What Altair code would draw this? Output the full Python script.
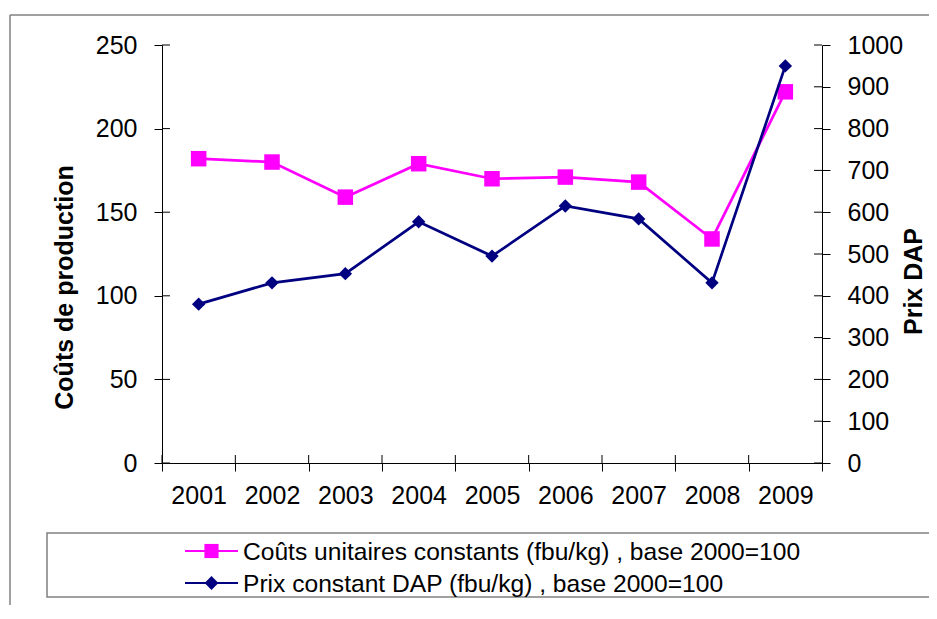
import altair as alt
import pandas as pd

years = ["2001", "2002", "2003", "2004", "2005", "2006", "2007", "2008", "2009"]
couts = [182, 180, 159, 179, 170, 171, 168, 134, 222]
prix = [380, 431, 453, 577, 495, 615, 584, 431, 950]
series_names = [
    "Coûts unitaires constants (fbu/kg) , base 2000=100",
    "Prix constant DAP (fbu/kg) , base 2000=100",
]
left_ticks = [0, 50, 100, 150, 200, 250]
right_ticks = [0, 100, 200, 300, 400, 500, 600, 700, 800, 900, 1000]
left_title = "Coûts de production"
right_title = "Prix DAP"
colors = ["#FF00FF", "#000080"]

W, H = 660, 418
FONT = "Liberation Sans"
AX = "#000000"
BORDER = "#808080"

df = pd.DataFrame({"year": years, "couts": couts, "prix": prix})
xscale = alt.Scale(type="band", paddingInner=0, paddingOuter=0, domain=years)
lscale = alt.Scale(domain=[0, 250], nice=False, zero=True)
rscale = alt.Scale(domain=[0, 1000], nice=False, zero=True)

x_axis = alt.Axis(
    title=None, tickBand="extent", labelAngle=0, labelFontSize=25,
    labelFont=FONT, labelColor=AX, labelPadding=12, tickSize=8,
    tickColor=AX, domainColor=AX, grid=False, labelBaseline="top",
)
x_enc = alt.X("year:N", scale=xscale, axis=x_axis)

left_axis = alt.Axis(
    orient="left", values=left_ticks, format="d", title=left_title, titleFont=FONT,
    titleFontSize=25, titleFontWeight="bold", titleColor=AX, titleAngle=270,
    titleX=-98, titleY=242, titleAlign="center", titleBaseline="middle",
    labelFont=FONT, labelFontSize=25, labelColor=AX, labelPadding=17,
    tickSize=8, tickColor=AX, domainColor=AX, grid=False,
)
right_axis = alt.Axis(
    orient="right", values=right_ticks, format="d", title=right_title, titleFont=FONT,
    titleFontSize=25, titleFontWeight="bold", titleColor=AX, titleAngle=270,
    titleX=91, titleY=236, titleAlign="center", titleBaseline="middle",
    labelFont=FONT, labelFontSize=25, labelColor=AX, labelPadding=17,
    tickSize=8, tickColor=AX, domainColor=AX, grid=False,
)

base = alt.Chart(df)
c_line = base.mark_line(color=colors[0], strokeWidth=2.7).encode(
    x=x_enc, y=alt.Y("couts:Q", scale=lscale, axis=left_axis)
)
c_pts = base.mark_point(shape="square", size=240, filled=True, opacity=1,
                        color=colors[0]).encode(
    x=x_enc, y=alt.Y("couts:Q", scale=lscale, axis=left_axis)
)
lt_df = pd.DataFrame({"v": left_ticks})
c_ticks = alt.Chart(lt_df).mark_rule(color=AX, strokeWidth=1).encode(
    y=alt.Y("v:Q", scale=lscale, axis=left_axis), x=alt.value(0), x2=alt.value(8)
)
left_group = alt.layer(c_line, c_pts, c_ticks)

p_line = base.mark_line(color=colors[1], strokeWidth=2.7).encode(
    x=x_enc, y=alt.Y("prix:Q", scale=rscale, axis=right_axis)
)
p_pts = base.mark_point(shape="diamond", size=180, filled=True, opacity=1,
                        color=colors[1]).encode(
    x=x_enc, y=alt.Y("prix:Q", scale=rscale, axis=right_axis)
)
rt_df = pd.DataFrame({"v": right_ticks})
p_ticks = alt.Chart(rt_df).mark_rule(color=AX, strokeWidth=1).encode(
    y=alt.Y("v:Q", scale=rscale, axis=right_axis), x=alt.value(W - 8), x2=alt.value(W)
)
right_group = alt.layer(p_line, p_pts, p_ticks)

x_ticks = alt.Chart(pd.DataFrame({"year": years})).mark_rule(
    color=AX, strokeWidth=1
).encode(
    x=alt.X("year:N", scale=xscale, bandPosition=0, axis=x_axis),
    y=alt.value(H - 8), y2=alt.value(H),
)

one = pd.DataFrame({"a": [0]})
leg_box = alt.Chart(one).mark_rect(fill=None, stroke=BORDER, strokeWidth=1.5).encode(
    x=alt.value(-115), x2=alt.value(820), y=alt.value(488), y2=alt.value(552)
)
border_left = alt.Chart(one).mark_rule(color=BORDER, strokeWidth=1.5).encode(
    x=alt.value(-152), y=alt.value(-30), y2=alt.value(570)
)
border_top = alt.Chart(one).mark_rule(color=BORDER, strokeWidth=1.5).encode(
    x=alt.value(-152), x2=alt.value(820), y=alt.value(-30)
)

legend_layers = []
shapes = ["square", "diamond"]
sizes = [200, 190]
row_y = [506, 538]
for i in range(2):
    ldf = pd.DataFrame({"name": [series_names[i]]})
    lc = alt.Chart(ldf)
    legend_layers.append(lc.mark_rule(color=colors[i], strokeWidth=2).encode(
        x=alt.value(23), x2=alt.value(76), y=alt.value(row_y[i])))
    legend_layers.append(lc.mark_point(shape=shapes[i], size=sizes[i], filled=True,
                                       opacity=1, color=colors[i]).encode(
        x=alt.value(49.5), y=alt.value(row_y[i])))
    legend_layers.append(lc.mark_text(align="left", baseline="middle", font=FONT,
                                      fontSize=24.6, color="#000").encode(
        x=alt.value(81), y=alt.value(row_y[i] + 1.5), text="name:N"))

chart = alt.layer(
    left_group, right_group, x_ticks, leg_box, border_left, border_top, *legend_layers
).resolve_scale(y="independent").properties(
    width=W, height=H,
    autosize=alt.AutoSizeParams(type="none"),
    padding={"left": 154, "top": 37, "right": 107, "bottom": 142},
).configure_view(stroke=None)

chart.save("out.html", embed_options={"renderer": "svg", "actions": False})
